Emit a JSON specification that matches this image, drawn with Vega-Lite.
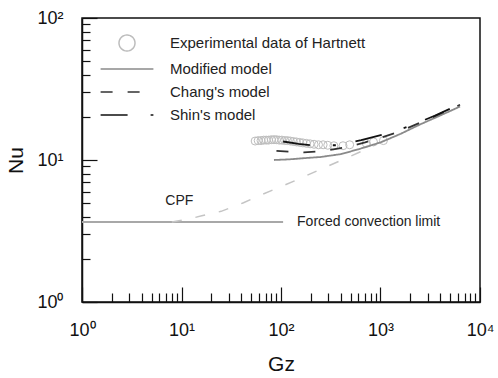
{
  "$schema": "https://vega.github.io/schema/vega-lite/v6.json",
  "width": 398,
  "height": 284,
  "autosize": {"type": "none"},
  "padding": {"left": 82, "top": 18, "right": 18, "bottom": 76},
  "config": {
    "view": {"stroke": "#111", "strokeWidth": 1.5},
    "font": "Liberation Sans",
    "axis": {"grid": false, "domainColor": "#111", "domainWidth": 1.5, "tickColor": "#111", "tickWidth": 1.2, "labelColor": "#111", "titleColor": "#111", "labelFont": "Liberation Sans", "titleFont": "Liberation Sans", "titleFontWeight": "normal"}
  },
  "datasets": {
    "exp": [
      {"Gz": 55, "Nu": 13.6}, {"Gz": 59, "Nu": 13.7}, {"Gz": 63, "Nu": 13.7}, {"Gz": 67, "Nu": 13.8},
      {"Gz": 71, "Nu": 13.8}, {"Gz": 75, "Nu": 13.8}, {"Gz": 80, "Nu": 13.9}, {"Gz": 85, "Nu": 13.9},
      {"Gz": 90, "Nu": 13.9}, {"Gz": 96, "Nu": 13.8}, {"Gz": 102, "Nu": 13.8}, {"Gz": 109, "Nu": 13.7},
      {"Gz": 116, "Nu": 13.7}, {"Gz": 124, "Nu": 13.6}, {"Gz": 133, "Nu": 13.5}, {"Gz": 143, "Nu": 13.4},
      {"Gz": 154, "Nu": 13.3}, {"Gz": 166, "Nu": 13.2}, {"Gz": 180, "Nu": 13.1}, {"Gz": 196, "Nu": 13.0},
      {"Gz": 215, "Nu": 12.9}, {"Gz": 238, "Nu": 12.8}, {"Gz": 265, "Nu": 12.8}, {"Gz": 295, "Nu": 12.7},
      {"Gz": 340, "Nu": 12.6}, {"Gz": 420, "Nu": 12.6}, {"Gz": 490, "Nu": 12.8}, {"Gz": 720, "Nu": 13.1},
      {"Gz": 850, "Nu": 13.4}, {"Gz": 1070, "Nu": 13.7}
    ],
    "models": [
      {"series": "Modified model", "Gz": 85, "Nu": 10.0},
      {"series": "Modified model", "Gz": 120, "Nu": 10.1},
      {"series": "Modified model", "Gz": 170, "Nu": 10.3},
      {"series": "Modified model", "Gz": 250, "Nu": 10.5},
      {"series": "Modified model", "Gz": 400, "Nu": 11.0},
      {"series": "Modified model", "Gz": 600, "Nu": 11.9},
      {"series": "Modified model", "Gz": 1000, "Nu": 13.3},
      {"series": "Modified model", "Gz": 1600, "Nu": 15.3},
      {"series": "Modified model", "Gz": 2500, "Nu": 17.8},
      {"series": "Modified model", "Gz": 4000, "Nu": 20.6},
      {"series": "Modified model", "Gz": 6300, "Nu": 23.8},
      {"series": "Chang's model", "Gz": 90, "Nu": 11.6},
      {"series": "Chang's model", "Gz": 130, "Nu": 11.4},
      {"series": "Chang's model", "Gz": 170, "Nu": 11.3},
      {"series": "Chang's model", "Gz": 270, "Nu": 11.6},
      {"series": "Chang's model", "Gz": 450, "Nu": 12.3},
      {"series": "Chang's model", "Gz": 700, "Nu": 13.3},
      {"series": "Chang's model", "Gz": 1000, "Nu": 14.3},
      {"series": "Chang's model", "Gz": 1600, "Nu": 16.0},
      {"series": "Chang's model", "Gz": 2500, "Nu": 18.3},
      {"series": "Chang's model", "Gz": 4000, "Nu": 21.2},
      {"series": "Chang's model", "Gz": 6300, "Nu": 24.5},
      {"series": "Shin's model", "Gz": 105, "Nu": 13.5},
      {"series": "Shin's model", "Gz": 150, "Nu": 13.0},
      {"series": "Shin's model", "Gz": 200, "Nu": 12.7},
      {"series": "Shin's model", "Gz": 360, "Nu": 12.7},
      {"series": "Shin's model", "Gz": 640, "Nu": 13.8},
      {"series": "Shin's model", "Gz": 1150, "Nu": 15.3},
      {"series": "Shin's model", "Gz": 2000, "Nu": 17.4},
      {"series": "Shin's model", "Gz": 3500, "Nu": 20.5},
      {"series": "Shin's model", "Gz": 6300, "Nu": 24.7}
    ],
    "cpf": [
      {"Gz": 8, "Nu": 3.66}, {"Gz": 12, "Nu": 3.85}, {"Gz": 16, "Nu": 4.05}, {"Gz": 25, "Nu": 4.35},
      {"Gz": 42, "Nu": 5.0}, {"Gz": 60, "Nu": 5.6}, {"Gz": 83, "Nu": 6.15}, {"Gz": 135, "Nu": 7.1},
      {"Gz": 250, "Nu": 8.6}, {"Gz": 450, "Nu": 10.3}, {"Gz": 700, "Nu": 11.8}
    ],
    "fcl": [{"Gz": 1, "Nu": 3.66}, {"Gz": 105, "Nu": 3.66}],
    "cpfnote": [{"label": "CPF", "Gz": 9.5, "Nu": 5.14}],
    "fclnote": [{"label": "Forced convection limit", "Gz": 145, "Nu": 3.66}]
  },
  "layer": [
    {
      "data": {"name": "fcl"},
      "mark": {"type": "line", "color": "#a8a8a8", "strokeWidth": 2},
      "encoding": {
        "x": {"field": "Gz", "type": "quantitative",
          "scale": {"type": "log", "domain": [1, 10000], "nice": false},
          "axis": {
            "title": "Gz", "titleFontSize": 21, "titlePadding": 8,
            "values": [1,2,3,4,5,6,7,8,9,10,20,30,40,50,60,70,80,90,100,200,300,400,500,600,700,800,900,1000,2000,3000,4000,5000,6000,7000,8000,9000,10000],
            "labelExpr": "datum.value == 1 ? '10⁰' : datum.value == 10 ? '10¹' : datum.value == 100 ? '10²' : datum.value == 1000 ? '10³' : datum.value == 10000 ? '10⁴' : ''",
            "labelFlush": false, "labelOverlap": false, "labelFontSize": 18, "labelPadding": 34,
            "tickSize": {"condition": {"test": "indexof([1,10,100,1000,10000], datum.value) >= 0", "value": -15}, "value": -9}
          }},
        "y": {"field": "Nu", "type": "quantitative",
          "scale": {"type": "log", "domain": [1, 100], "nice": false},
          "axis": {
            "title": "Nu", "titleFontSize": 21, "titlePadding": 10,
            "values": [1,2,3,4,5,6,7,8,9,10,20,30,40,50,60,70,80,90,100],
            "labelExpr": "datum.value == 1 ? '10⁰' : datum.value == 10 ? '10¹' : datum.value == 100 ? '10²' : ''",
            "labelFlush": false, "labelOverlap": false, "labelFontSize": 18, "labelPadding": 34,
            "tickSize": {"condition": {"test": "indexof([1,10,100], datum.value) >= 0", "value": -15}, "value": -8}
          }}
      }
    },
    {
      "data": {"name": "cpf"},
      "mark": {"type": "line", "color": "#c4c4c4", "strokeWidth": 1.5, "strokeDash": [10, 14]},
      "encoding": {
        "x": {"field": "Gz", "type": "quantitative"},
        "y": {"field": "Nu", "type": "quantitative"}
      }
    },
    {
      "data": {"name": "exp"},
      "transform": [{"calculate": "'Experimental data of Hartnett'", "as": "series"}],
      "mark": {"type": "point", "filled": false, "size": 64, "strokeWidth": 1, "opacity": 1},
      "encoding": {
        "x": {"field": "Gz", "type": "quantitative"},
        "y": {"field": "Nu", "type": "quantitative"},
        "color": {"field": "series", "type": "nominal",
          "scale": {"domain": ["Experimental data of Hartnett", "Modified model", "Chang's model", "Shin's model"], "range": ["#bdbdbd", "#8a8a8a", "#333333", "#111111"]},
          "legend": {"orient": "none", "legendX": 36, "legendY": 16, "title": null, "padding": 0, "rowPadding": 6, "labelFontSize": 15, "labelOffset": 34, "labelLimit": 400, "symbolSize": 256, "symbolStrokeWidth": 1.5, "labelColor": "#222", "labelFont": "Liberation Sans"}},
        "shape": {"field": "series", "type": "nominal",
          "scale": {"domain": ["Experimental data of Hartnett", "Modified model", "Chang's model", "Shin's model"], "range": ["circle", "M-3.3,0H3.3", "M-3.3,0H3.3", "M-3.3,0H3.3"]},
          "legend": {"orient": "none", "legendX": 36, "legendY": 16, "title": null, "padding": 0, "rowPadding": 6, "labelFontSize": 15, "labelOffset": 34, "labelLimit": 400, "symbolSize": 256, "symbolStrokeWidth": 1.5, "labelColor": "#222", "labelFont": "Liberation Sans"}}
      }
    },
    {
      "data": {"name": "models"},
      "mark": {"type": "line", "strokeWidth": 1.8},
      "encoding": {
        "x": {"field": "Gz", "type": "quantitative"},
        "y": {"field": "Nu", "type": "quantitative"},
        "color": {"field": "series", "type": "nominal"},
        "strokeDash": {"field": "series", "type": "nominal",
          "scale": {"domain": ["Experimental data of Hartnett", "Modified model", "Chang's model", "Shin's model"], "range": [[1, 0], [1, 0], [12, 15], [27, 23, 3, 20]]},
          "legend": {"orient": "none", "legendX": 36, "legendY": 16, "title": null, "padding": 0, "rowPadding": 6, "labelFontSize": 15, "labelOffset": 34, "labelLimit": 400, "symbolSize": 256, "symbolStrokeWidth": 1.5, "labelColor": "#222", "labelFont": "Liberation Sans"}}
      }
    },
    {
      "data": {"name": "cpfnote"},
      "mark": {"type": "text", "fontSize": 14, "color": "#222", "baseline": "middle", "align": "center", "font": "Liberation Sans"},
      "encoding": {
        "x": {"field": "Gz", "type": "quantitative"},
        "y": {"field": "Nu", "type": "quantitative"},
        "text": {"field": "label"}
      }
    },
    {
      "data": {"name": "fclnote"},
      "mark": {"type": "text", "fontSize": 14, "color": "#222", "baseline": "middle", "align": "left", "font": "Liberation Sans"},
      "encoding": {
        "x": {"field": "Gz", "type": "quantitative"},
        "y": {"field": "Nu", "type": "quantitative"},
        "text": {"field": "label"}
      }
    }
  ]
}
